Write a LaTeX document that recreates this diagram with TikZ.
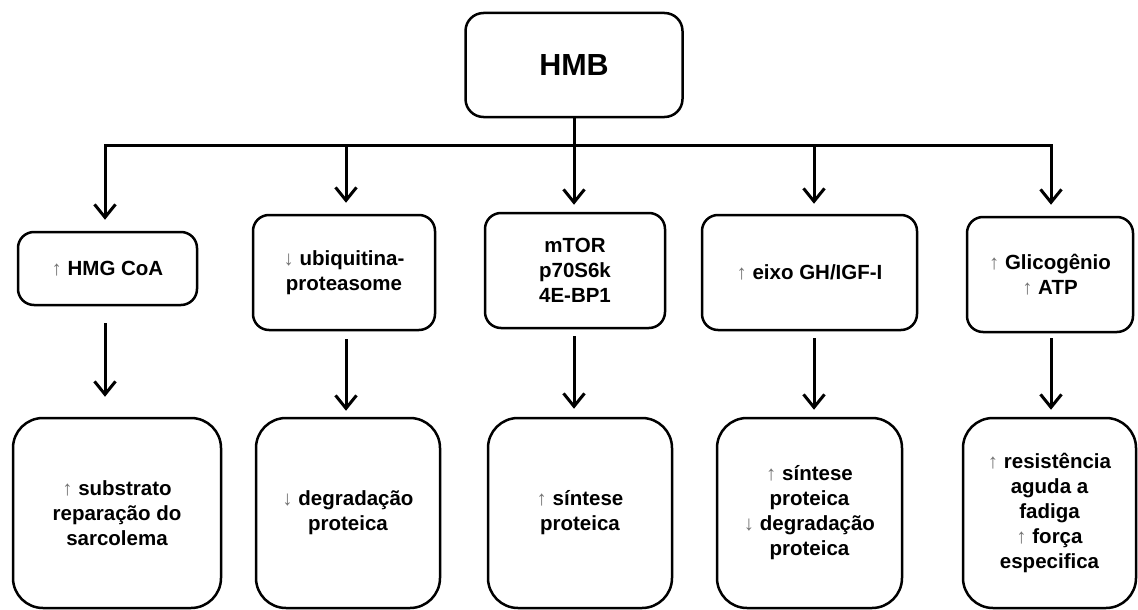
\documentclass[tikz,border=0pt]{standalone}
\usepackage{fontspec}
\setmainfont{Liberation Sans}
\usetikzlibrary{arrows.meta}

\newcommand{\upa}{{\mdseries\color{black!55}↑}}
\newcommand{\dna}{{\mdseries\color{black!55}↓}}

\tikzset{
  box/.style={draw, line width=2.5pt, rounded corners=16pt, align=center,
    font=\bfseries\fontsize{20.5}{25}\selectfont, inner sep=0pt},
  bigbox/.style={box, rounded corners=30pt, minimum height=190pt},
  arr/.style={line width=3pt, -{Straight Barb[length=13pt,width=21pt]}}
}

\begin{document}
\begin{tikzpicture}[x=1pt,y=-1pt]

  \useasboundingbox[fill=white] (0,0) rectangle (1138,610);

     \node[box, minimum width=217pt, minimum height=104pt, rounded corners=18pt,
       font=\bfseries\fontsize{30.5}{36}\selectfont] (hmb) at (574,65) {HMB};

     \node[box, minimum width=179pt, minimum height=73pt] (hmg) at (107.5,268.5) {\upa{} HMG CoA};
      \node[box, minimum width=182pt, minimum height=115pt] (ubq) at (344,272.5) {\dna{} ubiquitina-\\proteasome};
       \node[box, minimum width=180pt, minimum height=115pt] (mtor) at (575,270.5) {mTOR\\p70S6k\\4E-BP1};
        \node[box, minimum width=215pt, minimum height=115pt] (eixo) at (809.5,272.5) {\upa{} eixo GH/IGF-I};
         \node[box, minimum width=166pt, minimum height=115pt] (glic) at (1050,274.5) {\upa{} Glicogênio\\\upa{} ATP};

     \node[bigbox, minimum width=208pt] (subs) at (117,513) {\upa{} substrato\\repara\c{c}ão do\\sarcolema};
      \node[bigbox, minimum width=184pt] (degr) at (348,513) {\dna{} degradação\\proteica};
       \node[bigbox, minimum width=184pt] (sint) at (580,513) {\upa{} síntese\\proteica};
        \node[bigbox, minimum width=185pt] (sdeg) at (809.5,513) {\upa{} síntese\\proteica\\\dna{} degradação\\proteica};
         \node[bigbox, minimum width=173pt] (resi) at (1049.5,513) {\upa{} resistência\\aguda a\\fadiga\\\upa{} força\\especifica};

     \coordinate (t1) at (105,145);
      \coordinate (t2) at (346,145);
       \coordinate (t4) at (814,145);
        \coordinate (t5) at (1051,145);

   \tikzset{every path/.style={line width=3pt}}
    \draw[line cap=rect] (t1) -- (t5);
    \draw[arr, shorten >=7pt] (hmb.south) -- (hmb.south |- mtor.north);
    \draw[arr, shorten >=11pt] (t1) -- (t1 |- hmg.north);
    \draw[arr, shorten >=11pt] (t2) -- (t2 |- ubq.north);
    \draw[arr, shorten >=10pt] (t4) -- (t4 |- eixo.north);
    \draw[arr, shorten >=11pt] (t5) -- (t5 |- glic.north);

    \draw[arr, shorten <=17pt, shorten >=20pt] (t1 |- hmg.south) -- (t1 |- subs.north);
    \draw[arr, shorten <=8pt, shorten >=6pt] (t2 |- ubq.south) -- (t2 |- degr.north);
    \draw[arr, shorten <=7pt, shorten >=8pt] (hmb.south |- mtor.south) -- (hmb.south |- sint.north);
    \draw[arr, shorten <=7pt, shorten >=7pt] (t4 |- eixo.south) -- (t4 |- sdeg.north);
    \draw[arr, shorten <=5pt, shorten >=7pt] (t5 |- glic.south) -- (t5 |- resi.north);

\end{tikzpicture}
\end{document}
